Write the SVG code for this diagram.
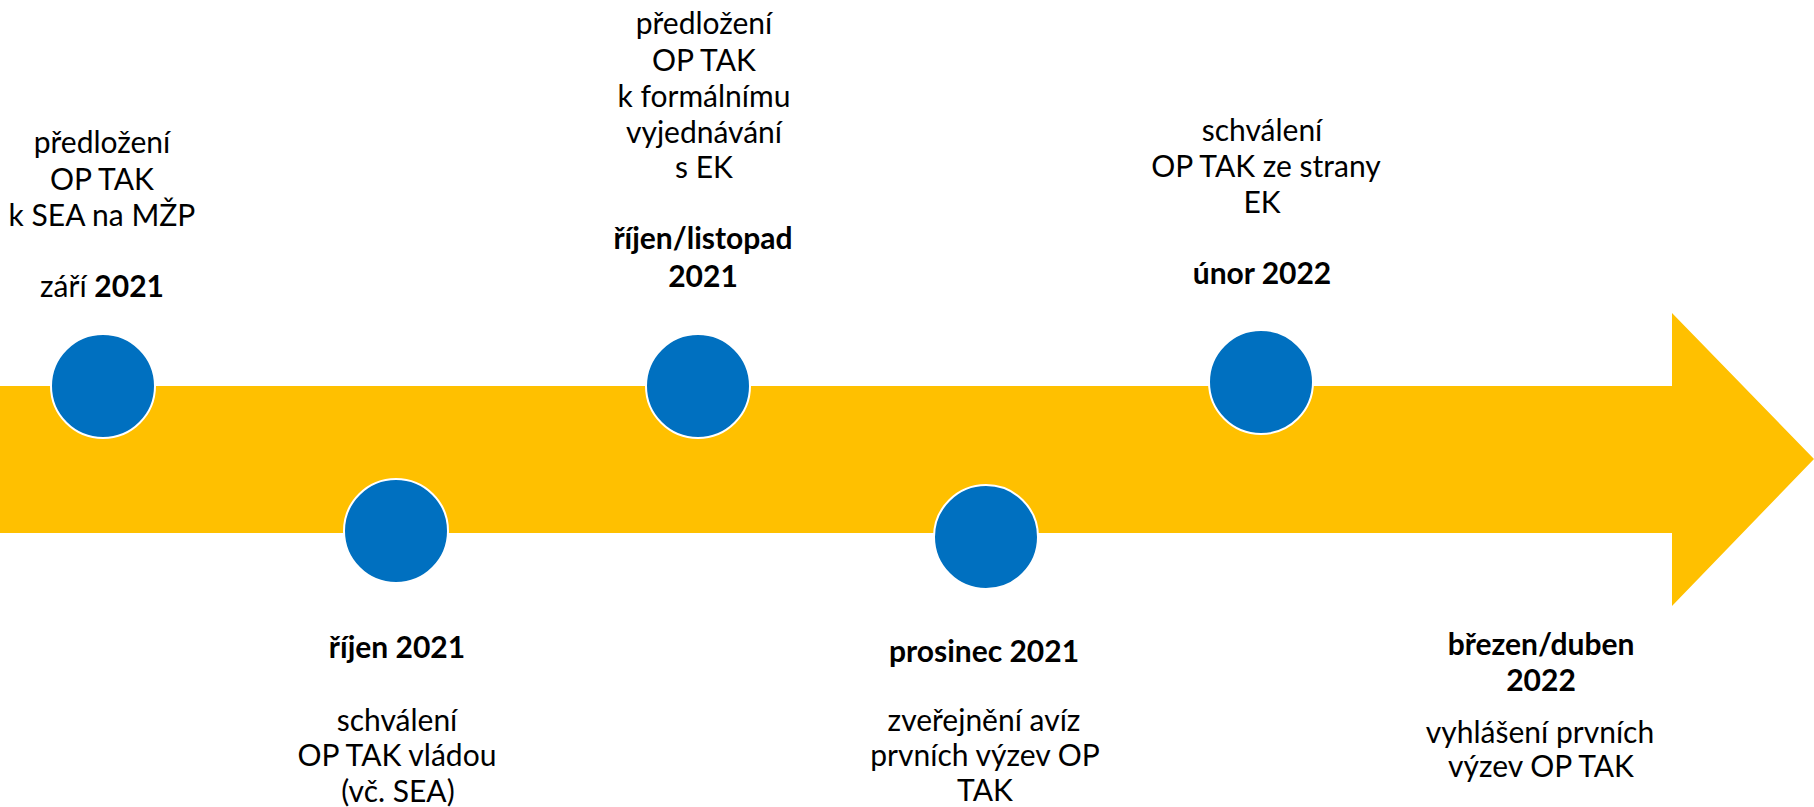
<svg xmlns="http://www.w3.org/2000/svg" width="1814" height="807" viewBox="0 0 1814 807">
<style>
.t{font-family:Lato,"Liberation Sans",sans-serif;font-size:30px;fill:#000;text-anchor:middle}
.b{font-weight:bold}
.dot{fill:#0070C0;stroke:#fff;stroke-width:2}
</style>
<rect width="1814" height="807" fill="#fff"/>
<g id="timeline-arrow">
<polygon points="0,386 1672,386 1672,313 1814,459 1672,606 1672,533 0,533" fill="#FFC000"/>
</g>
<g id="connectors"></g>
<g id="node-zari-2021">
<circle class="dot" cx="103" cy="386" r="52"/>
<text class="t" x="102" y="153">předložení</text>
<text class="t" x="102" y="190">OP TAK</text>
<text class="t" x="102" y="226">k SEA na MŽP</text>
<text class="t" x="102" y="297">září <tspan class="b">2021</tspan></text>
</g>
<g id="node-rijen-2021">
<circle class="dot" cx="396" cy="531" r="52"/>
<text class="t b" x="397" y="658">říjen 2021</text>
<text class="t" x="397" y="731">schválení</text>
<text class="t" x="397" y="766">OP TAK vládou</text>
<text class="t" x="398" y="802">(vč. SEA)</text>
</g>
<g id="node-rijen-listopad-2021">
<circle class="dot" cx="698" cy="386" r="52"/>
<text class="t" x="704" y="34">předložení</text>
<text class="t" x="704" y="71">OP TAK</text>
<text class="t" x="704" y="107">k formálnímu</text>
<text class="t" x="704" y="143">vyjednávání</text>
<text class="t" x="704" y="178">s EK</text>
<text class="t b" x="703" y="249">říjen/listopad</text>
<text class="t b" x="703" y="287">2021</text>
</g>
<g id="node-prosinec-2021">
<circle class="dot" cx="986" cy="537" r="52"/>
<text class="t b" x="984" y="662">prosinec 2021</text>
<text class="t" x="984" y="731">zveřejnění avíz</text>
<text class="t" x="985" y="766">prvních výzev OP</text>
<text class="t" x="985" y="801">TAK</text>
</g>
<g id="node-unor-2022">
<circle class="dot" cx="1261" cy="382" r="52"/>
<text class="t" x="1262" y="141">schválení</text>
<text class="t" x="1266" y="177">OP TAK ze strany</text>
<text class="t" x="1262" y="213">EK</text>
<text class="t b" x="1262" y="284">únor 2022</text>
</g>
<g id="node-brezen-duben-2022">
<text class="t b" x="1541" y="655">březen/duben</text>
<text class="t b" x="1541" y="691">2022</text>
<text class="t" x="1540" y="743">vyhlášení prvních</text>
<text class="t" x="1541" y="777">výzev OP TAK</text>
</g>
</svg>
